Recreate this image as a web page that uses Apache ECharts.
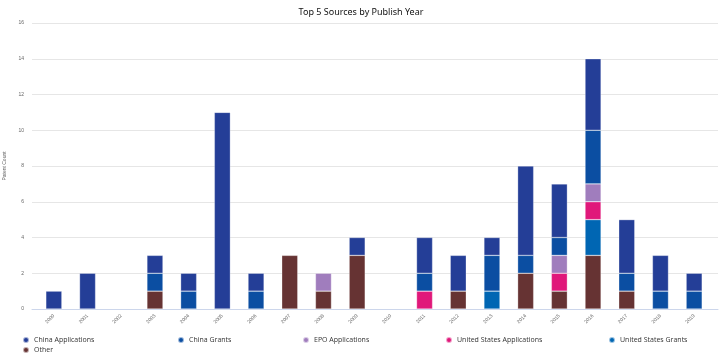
<!DOCTYPE html>
<html><head><meta charset="utf-8">
<script src="https://cdn.jsdelivr.net/npm/echarts@6/dist/echarts.min.js"></script>
<style>html,body{margin:0;padding:0;background:#fff}#c{width:722px;height:359px}</style>
</head><body><div id="c"></div>
<script>
var years = ['2000','2001','2002','2003','2004','2005','2006','2007','2008','2009','2010','2011','2012','2013','2014','2015','2016','2017','2018','2019'];
var chinaApplications = [1,2,0,1,1,11,1,0,0,1,0,2,2,1,5,3,4,3,2,1];
var chinaGrants       = [0,0,0,1,1,0,1,0,0,0,0,1,0,2,1,1,3,1,1,1];
var epoApplications   = [0,0,0,0,0,0,0,0,1,0,0,0,0,0,0,1,1,0,0,0];
var usApplications    = [0,0,0,0,0,0,0,0,0,0,0,1,0,0,0,1,1,0,0,0];
var usGrants          = [0,0,0,0,0,0,0,0,0,0,0,0,0,1,0,0,2,0,0,0];
var other             = [0,0,0,1,0,0,0,3,1,3,0,0,1,0,2,1,3,1,0,0];
var yTicks = [0,2,4,6,8,10,12,14,16];
var seriesNames = ['China Applications','China Grants','EPO Applications','United States Applications','United States Grants','Other'];
var seriesValues = [chinaApplications, chinaGrants, epoApplications, usApplications, usGrants, other];
var colors = ['#243e97','#0b4ea2','#a07dbd','#e0187a','#0066b3','#663333'];

var series = [];
for (var i = seriesNames.length - 1; i >= 0; i--) {
  series.push({
    name: seriesNames[i], type: 'bar', stack: 'total', barWidth: 16,
    xAxisIndex: 1, yAxisIndex: 1,
    itemStyle: { color: colors[i], borderColor: 'rgba(255,255,255,0.6)', borderWidth: 0.5 },
    data: seriesValues[i].map(function(v){ return v === 0 ? null : v; })
  });
}
var legendLeft = [22, 177, 302, 445, 608, 22];
var legendTop = [336, 336, 336, 336, 336, 346];
var legends = seriesNames.map(function(n, i){
  return { data: [n], left: legendLeft[i], top: legendTop[i], orient: 'horizontal', icon: 'circle',
    padding: 0, itemWidth: 6, itemHeight: 6, itemGap: 4,
    textStyle: { fontSize: 7, color: '#333', fontFamily: '"Open Sans", "Noto Sans", sans-serif' } };
});

var chart = echarts.init(document.getElementById('c'));
chart.setOption({
  animation: false,
  color: colors,
  title: { text: 'Top 5 Sources by Publish Year', left: 'center', top: 3,
    textStyle: { fontSize: 9, fontWeight: 'normal', color: '#111', fontFamily: 'Noto Sans' } },
  legend: legends,
  grid: [
    { left: 32, right: 4, top: 23, bottom: 50, containLabel: false, outerBoundsMode: 'none' },
    { left: 37, right: 11, top: 23, bottom: 50, containLabel: false, outerBoundsMode: 'none' }
  ],
  xAxis: [
    { type: 'category', gridIndex: 0, data: years,
      axisLine: { lineStyle: { color: '#ccd6eb' } }, axisTick: { show: false }, axisLabel: { show: false } },
    { type: 'category', gridIndex: 1, data: years,
      axisLine: { show: false }, axisTick: { show: false },
      axisLabel: { rotate: 45, fontSize: 5, color: '#666', margin: 6 } }
  ],
  yAxis: [
    { type: 'value', gridIndex: 0, min: yTicks[0], max: yTicks[yTicks.length-1], interval: 2,
      name: 'Patent Count', nameLocation: 'middle', nameGap: 22,
      nameTextStyle: { fontSize: 5, color: '#666' },
      axisLabel: { fontSize: 5, color: '#666', margin: 8 },
      splitLine: { lineStyle: { color: '#e6e6e6', width: 1 } } },
    { type: 'value', gridIndex: 1, min: yTicks[0], max: yTicks[yTicks.length-1], interval: 2,
      axisLabel: { show: false }, splitLine: { show: false }, axisLine: { show: false }, axisTick: { show: false } }
  ],
  series: series
});
</script></body></html>
